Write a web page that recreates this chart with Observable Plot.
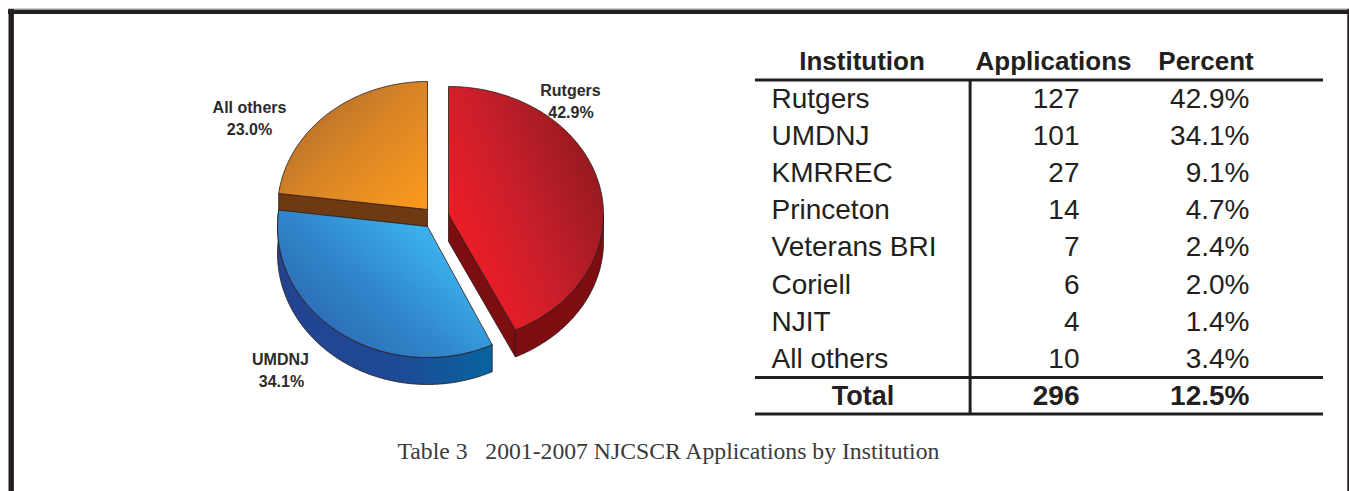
<!DOCTYPE html>
<html><head><meta charset="utf-8">
<script src="https://cdn.jsdelivr.net/npm/d3@7"></script>
<script src="https://cdn.jsdelivr.net/npm/@observablehq/plot@0.6"></script>
<style>html,body{margin:0;padding:0;background:#fff;overflow:hidden}svg{display:block}</style>
</head><body><div id="chart"></div>
<script>
const institutions = ["Rutgers","UMDNJ","KMRREC","Princeton","Veterans BRI","Coriell","NJIT","All others"];
const applications = ["127","101","27","14","7","6","4","10"];
const percents = ["42.9%","34.1%","9.1%","4.7%","2.4%","2.0%","1.4%","3.4%"];
const headers = ["Institution","Applications","Percent"];
const totals = ["Total","296","12.5%"];
const pieNames = ["Rutgers","UMDNJ","All others"];
const pieShares = [42.9,34.1,23.0];
const caption = "Table 3\u00a0\u00a0 2001-2007 NJCSCR Applications by Institution";

const FONT = "Liberation Sans, Arial, sans-serif";
const INK = "#231f20";

// Pie geometry: angles come from the shares
const rad = d => d * Math.PI / 180;
const cum = [0, pieShares[0]*3.6, (pieShares[0]+pieShares[1])*3.6, 360];
const arc = (c, a0, a1, dy = 0) => {
  const n = Math.max(1, Math.ceil(Math.abs(a1 - a0))), p = [];
  for (let i = 0; i <= n; i++) {
    const a = rad(a0 + (a1 - a0) * i / n);
    p.push({x: c.x + c.rx * Math.sin(a), y: c.y - c.ry * Math.cos(a) + dy});
  }
  return p;
};
const close = p => [...p, p[0]];
const wedge = (c, a0, a1) => close([{x: c.x, y: c.y}, ...arc(c, a0, a1)]);
const outer = (c, a0, a1, d) => close([...arc(c, a0, a1), ...arc(c, a1, a0, d)]);
const cut = (c, a, d) => { const e = arc(c, a, a)[0];
  return close([{x: c.x, y: c.y}, e, {x: e.x, y: e.y + d}, {x: c.x, y: c.y + d}]); };

const red = {x: 448, y: 214, rx: 155, ry: 128};
const blue = {x: 427, y: 226, rx: 150, ry: 131};
const orange = {x: 427, y: 209, rx: 150, ry: 128};
const depth = 27;

const poly = (pts, fill) => Plot.line(pts, {x: "x", y: "y", fill, stroke: "#2a1a1a", strokeWidth: 0.8, strokeLinejoin: "round", curve: "linear"});

const defs = () => {
  const ns = "http://www.w3.org/2000/svg";
  const d = document.createElementNS(ns, "defs");
  const grad = (id, x1, y1, x2, y2, stops) => {
    const g = document.createElementNS(ns, "linearGradient");
    g.setAttribute("id", id);
    [["x1",x1],["y1",y1],["x2",x2],["y2",y2]].forEach(([k,v]) => g.setAttribute(k, v));
    stops.forEach(([o, c]) => { const s = document.createElementNS(ns, "stop");
      s.setAttribute("offset", o); s.setAttribute("stop-color", c); g.appendChild(s); });
    d.appendChild(g);
  };
  grad("gRed", 0.1, 0.75, 0.95, 0.2, [[0,"#f01c26"],[0.45,"#c81f2b"],[1,"#8f191d"]]);
  grad("gBlue", 0.1, 0.75, 0.75, 0.25, [[0,"#2b6ab5"],[0.5,"#3187cb"],[1,"#3bb0ec"]]);
  grad("gOrange", 0.05, 0.1, 0.95, 0.95, [[0,"#a9692c"],[0.5,"#d98526"],[1,"#f9981d"]]);
  grad("gBlueWall", 0, 0, 1, 0, [[0,"#24438f"],[0.6,"#1c4b97"],[1,"#07649f"]]);
  return d;
};

const rows = institutions.map((name, i) => ({name, a: applications[i], p: percents[i], y: 107.5 + i * 37.1}));
const tx = (data, opts) => Plot.text(data, {fontFamily: FONT, fontSize: 28, fill: INK, lineAnchor: "bottom", ...opts});
const labelData = [
  {t: pieNames[0], x: 570, y: 95}, {t: pieShares[0].toFixed(1) + "%", x: 570.5, y: 117},
  {t: pieNames[2], x: 249, y: 112}, {t: pieShares[2].toFixed(1) + "%", x: 249, y: 134},
  {t: pieNames[1], x: 280, y: 364}, {t: pieShares[1].toFixed(1) + "%", x: 281, y: 386}
];

const chart = Plot.plot({
  width: 1349, height: 491, margin: 0,
  x: {domain: [0, 1349], range: [0, 1349], axis: null},
  y: {domain: [0, 491], range: [0, 491], axis: null},
  style: {background: "#fff"},
  marks: [
    defs,
    // frame
    Plot.ruleY([8.7], {x1: 8, x2: 1349, stroke: "#999", strokeWidth: 1.4}),
    Plot.ruleX([10.7], {y1: 9, y2: 491, stroke: INK, strokeWidth: 5.4}),
    Plot.ruleX([1348], {y1: 9, y2: 491, stroke: INK, strokeWidth: 2.4}),
    Plot.ruleY([11.4], {x1: 8, x2: 1349, stroke: INK, strokeWidth: 4}),
    // orange
    poly(cut(orange, cum[2], 17), "#6f3a12"),
    poly(wedge(orange, cum[2], cum[3]), "url(#gOrange)"),
    // blue
    poly(outer(blue, cum[1], cum[2], depth), "url(#gBlueWall)"),
    poly(wedge(blue, cum[1], cum[2]), "url(#gBlue)"),
    // red
    poly(cut(red, cum[1], depth), "#7c0d10"),
    poly(outer(red, 90, cum[1], depth), "#7e0d12"),
    poly(wedge(red, cum[0], cum[1]), "url(#gRed)"),
    // pie labels
    Plot.text(labelData, {x: "x", y: "y", text: "t", fontFamily: FONT, fontSize: 16, fontWeight: "bold", fill: "#2b2b2b", lineAnchor: "bottom"}),
    // table rules
    Plot.ruleX([968], {y1: 80, y2: 413, stroke: "#aaa", strokeWidth: 1}),
    Plot.ruleX([969.8], {y1: 79, y2: 415, stroke: INK, strokeWidth: 2.6}),
    Plot.ruleY([79.5, 377, 413.5], {x1: 755, x2: 1323, stroke: INK, strokeWidth: 3}),
    // table headers
    tx([headers[0]], {x: () => 861.5, y: () => 69.5, text: d => d, fontSize: 26, fontWeight: "bold"}),
    tx([headers[1]], {x: () => 1053, y: () => 69.5, text: d => d, fontSize: 26, fontWeight: "bold"}),
    tx([headers[2]], {x: () => 1205.5, y: () => 69.5, text: d => d, fontSize: 26, fontWeight: "bold"}),
    // table body
    tx(rows, {x: () => 771, y: "y", text: "name", textAnchor: "start"}),
    tx(rows, {x: () => 1079, y: "y", text: "a", textAnchor: "end"}),
    tx(rows, {x: () => 1249, y: "y", text: "p", textAnchor: "end"}),
    // totals
    tx([totals[0]], {x: () => 862.5, y: () => 404, text: d => d, fontSize: 27, fontWeight: "bold"}),
    tx([totals[1]], {x: () => 1079, y: () => 404, text: d => d, fontWeight: "bold", textAnchor: "end"}),
    tx([totals[2]], {x: () => 1249, y: () => 404, text: d => d, fontWeight: "bold", textAnchor: "end"}),
    // caption
    Plot.text([caption], {x: () => 397, y: () => 458, text: d => d, textAnchor: "start", lineAnchor: "bottom", fontFamily: "Liberation Serif, serif", fontSize: 23.7, fill: "#3a3a3a"})
  ]
});
document.getElementById("chart").appendChild(chart);
</script></body></html>
